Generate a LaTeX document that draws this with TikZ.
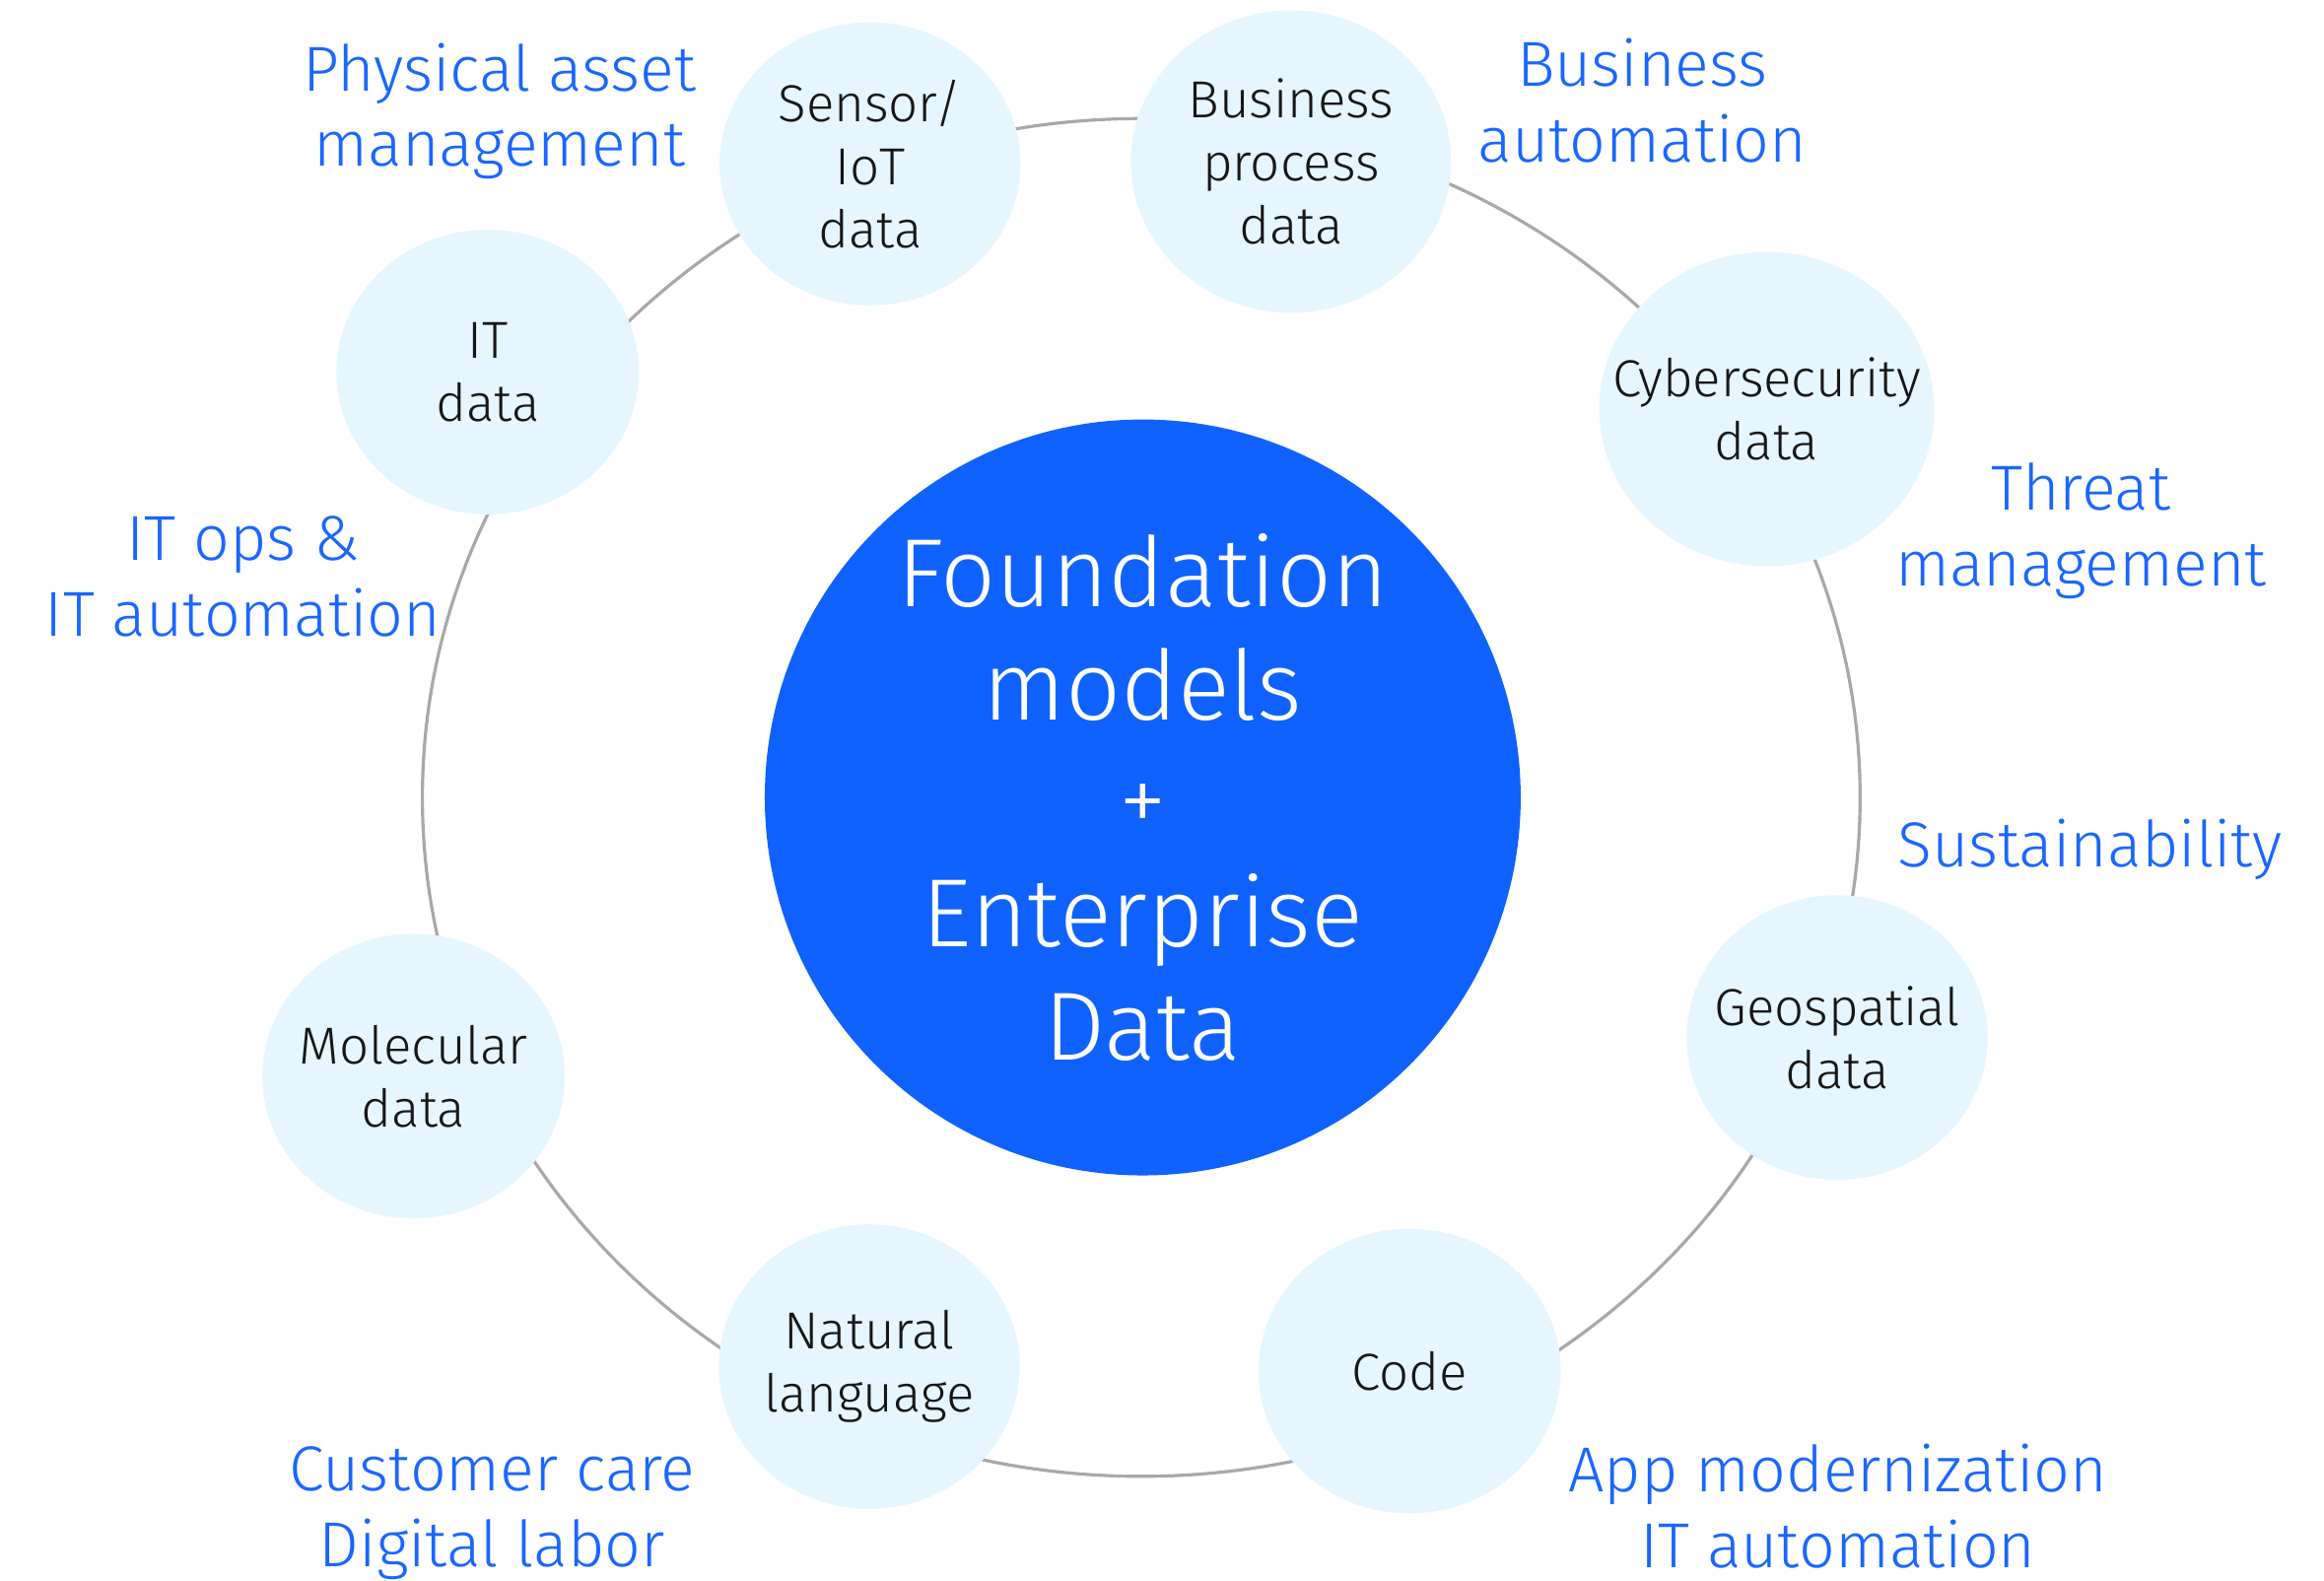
\documentclass[tikz,border=0pt]{standalone}
\usepackage{fontspec}
\setmainfont{Fira Sans Light}
\usetikzlibrary{shapes.geometric}

\definecolor{hubblue}{HTML}{0F62FE}
\definecolor{tagblue}{HTML}{1A66FF}
\definecolor{pale}{HTML}{E5F6FF}
\definecolor{ringgray}{HTML}{A8A8A8}
\definecolor{ink}{HTML}{161616}

\begin{document}
\begin{tikzpicture}[x=1mm,y=1mm,
  every node/.append style={inner sep=0pt},
  datatext/.style={text=ink,align=center,
    font=\fontsize{10}{12.1}\selectfont},
  datanode/.style={ellipse,fill=pale,label={[datatext]center:#1}},
  usecase/.style={text=tagblue,align=center,
    font=\fontsize{12.2}{14.5}\selectfont},
  ring/.style={draw=ringgray,line width=0.6pt}]
  \useasboundingbox (0,0) rectangle (156.8,-106.6);
  % outer ring, behind the data nodes
  \coordinate (mid) at (77.0,-53.8);
  \draw [ring] (mid) ellipse [x radius=48.5mm, y radius=45.8mm];
  % hub
  \node [circle,fill=hubblue,minimum size=51mm,text=white,align=center,
    font=\fontsize{18.6}{21.8}\selectfont] (hub) at (77.1,-53.8)
    {Foundation\\models\\+\\Enterprise\\Data};
  % data sources on the ring
  \node [datanode={Sensor/\\IoT\\data},minimum width=20.3mm,minimum height=19.1mm] (sensor) at (58.7,-11.05) {};
  \node [datanode={Business\\process\\data},minimum width=21.6mm,minimum height=20.4mm] (bizproc) at (87.1,-10.9) {};
  \node [datanode={Cybersecurity\\data},minimum width=22.6mm,minimum height=21.2mm] (cyber) at (119.2,-27.6) {};
  \node [datanode={Geospatial\\data},minimum width=20.3mm,minimum height=19.2mm] (geo) at (123.95,-70.0) {};
  \node [datanode={Code},minimum width=20.4mm,minimum height=19.2mm] (code) at (95.1,-92.5) {};
  \node [datanode={Natural\\language},minimum width=20.3mm,minimum height=19.2mm] (natlang) at (58.65,-92.2) {};
  \node [datanode={Molecular\\data},minimum width=20.4mm,minimum height=19.2mm] (molec) at (27.9,-72.6) {};
  \node [datanode={IT\\data},minimum width=20.4mm,minimum height=19.2mm] (itdata) at (32.9,-25.1) {};
  % use cases
  \node [usecase] (physasset) at (33.7,-7.5) {Physical asset\\management};
  \node [usecase] (bizauto) at (110.8,-6.8) {Business\\automation};
  \node [usecase] (threat) at (140.4,-35.8) {Threat\\management};
  \node [usecase] (sustain) at (141.0,-57.3) {Sustainability};
  \node [usecase] (appmod) at (124.0,-101.6) {App modernization\\IT automation};
  \node [usecase] (custcare) at (33.2,-102.1) {Customer care\\Digital labor};
  \node [usecase] (itops) at (16.4,-38.9) {IT ops \&\\IT automation};
\end{tikzpicture}
\end{document}
